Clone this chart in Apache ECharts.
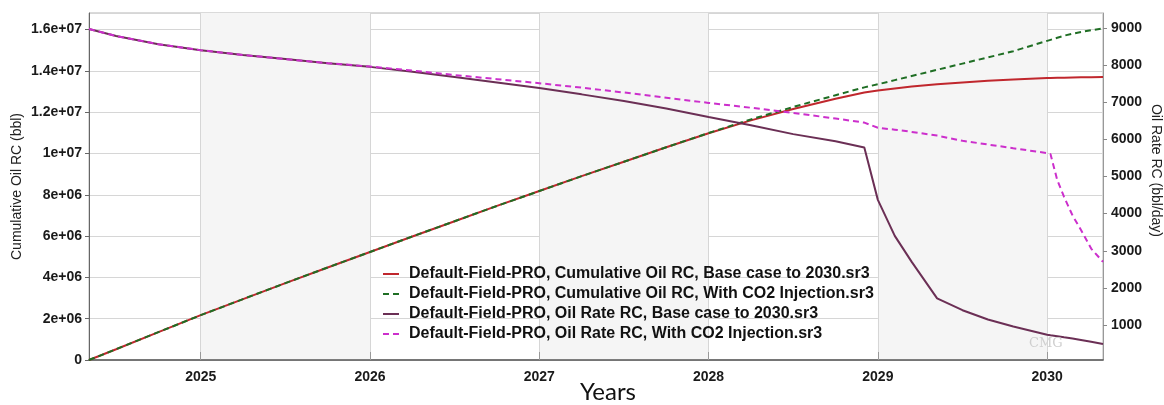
<!DOCTYPE html>
<html>
<head>
<meta charset="utf-8">
<script src="https://cdn.jsdelivr.net/npm/echarts@6/dist/echarts.min.js"></script>
<style>
  html, body { margin: 0; padding: 0; background: #fff; }
  #chart { width: 1164px; height: 405px; }
</style>
</head>
<body>
<div id="chart"></div>
<script>
// time axis (decimal years)
const years = [
  2024.34, 2024.5, 2024.75, 2025, 2025.25, 2025.5, 2025.75, 2026, 2026.25, 2026.5,
  2026.75, 2027, 2027.25, 2027.5, 2027.75, 2028, 2028.25, 2028.5, 2028.75, 2028.92,
  2029, 2029.1, 2029.2, 2029.35, 2029.5, 2029.65, 2029.8, 2030, 2030.02, 2030.06,
  2030.1, 2030.15, 2030.2, 2030.26, 2030.33
];

// cumulative oil (bbl), left axis
const cumBase = [
  0, 0.52e6, 1.35e6, 2.17e6, 2.95e6, 3.72e6, 4.48e6, 5.23e6, 5.98e6, 6.72e6,
  7.46e6, 8.18e6, 8.9e6, 9.6e6, 10.3e6, 10.98e6, 11.6e6, 12.15e6, 12.65e6, 12.95e6,
  13.05e6, 13.15e6, 13.24e6, 13.35e6, 13.44e6, 13.52e6, 13.58e6, 13.65e6, 13.652e6, 13.66e6,
  13.665e6, 13.675e6, 13.685e6, 13.692e6, 13.7e6
];
const cumCO2 = [
  0, 0.52e6, 1.35e6, 2.17e6, 2.95e6, 3.72e6, 4.48e6, 5.23e6, 5.98e6, 6.72e6,
  7.46e6, 8.18e6, 8.9e6, 9.6e6, 10.3e6, 10.99e6, 11.65e6, 12.25e6, 12.82e6, 13.2e6,
  13.35e6, 13.55e6, 13.75e6, 14.05e6, 14.35e6, 14.65e6, 14.95e6, 15.45e6, 15.5e6, 15.6e6,
  15.7e6, 15.8e6, 15.88e6, 15.97e6, 16.05e6
];

// oil rate (bbl/day), right axis
const rateBase = [
  8970, 8780, 8560, 8400, 8270, 8160, 8050, 7950, 7820, 7680,
  7530, 7380, 7210, 7030, 6830, 6600, 6380, 6140, 5950, 5780,
  4370, 3400, 2700, 1720, 1400, 1150, 960, 740, 725, 700,
  670, 640, 600, 550, 490
];
const rateCO2 = [
  8970, 8780, 8560, 8400, 8270, 8160, 8050, 7960, 7850, 7730,
  7620, 7510, 7390, 7260, 7120, 6980, 6850, 6710, 6560, 6450,
  6310, 6260, 6200, 6100, 5960, 5860, 5760, 5630, 5600, 4900,
  4450, 3950, 3560, 3060, 2700
];

const legendNames = [
  'Default-Field-PRO, Cumulative Oil RC, Base case to 2030.sr3',
  'Default-Field-PRO, Cumulative Oil RC, With CO2 Injection.sr3',
  'Default-Field-PRO, Oil Rate RC, Base case to 2030.sr3',
  'Default-Field-PRO, Oil Rate RC, With CO2 Injection.sr3'
];
const rightTicks = [1000, 2000, 3000, 4000, 5000, 6000, 7000, 8000, 9000];

const pairs = (vals) => years.map((x, i) => [x, vals[i]]);

// 2e+06 style labels
const sci = (v) => {
  if (v === 0) return '0';
  const [m, e] = v.toExponential().split('e');
  const sign = e[0] === '-' ? '-' : '+';
  const d = e.replace(/[+-]/, '').padStart(2, '0');
  return m + 'e' + sign + d;
};

const labelFont = { fontFamily: 'Liberation Sans', fontWeight: 'bold', fontSize: 14, color: '#1a1a1a' };

const chart = echarts.init(document.getElementById('chart'));
chart.setOption({
  animation: false,
  grid: {
    left: 89, right: 61, top: 13, bottom: 45,
    containLabel: false, outerBoundsMode: 'none',
    show: true, borderColor: '#b5b5b5', borderWidth: 1
  },
  legend: {
    orient: 'vertical',
    left: 377, top: 261,
    itemWidth: 16, itemHeight: 14, itemGap: 4,
    itemStyle: { opacity: 0 },
    textStyle: { fontFamily: 'Liberation Sans', fontWeight: 'bold', fontSize: 16, color: '#111', padding: [0, 0, 0, 5] },
    data: legendNames
  },
  xAxis: {
    type: 'value',
    min: 2024.34, max: 2030.33,
    splitNumber: 6,
    name: 'Years',
    nameLocation: 'middle',
    nameGap: 20,
    nameMoveOverlap: false,
    nameTextStyle: { fontFamily: 'Lato', fontSize: 24, color: '#111', padding: [0, 0, 0, 24] },
    axisLine: { lineStyle: { color: '#555', width: 1.5 } },
    axisTick: { show: true, length: -8, lineStyle: { color: '#999' } },
    axisLabel: { ...labelFont, margin: 10, showMinLabel: false, showMaxLabel: false, formatter: (v) => String(Math.round(v)) },
    splitLine: { show: true, lineStyle: { color: '#d6d6d6' } },
    splitArea: { show: true, areaStyle: { color: ['rgba(255,255,255,0)', '#f5f5f5'] } }
  },
  yAxis: [
    {
      type: 'value',
      min: 0, max: 1.68e7, interval: 2e6,
      name: 'Cumulative Oil RC (bbl)',
      nameLocation: 'middle',
      nameGap: 65,
      nameMoveOverlap: false,
      nameTextStyle: { fontFamily: 'Liberation Sans', fontSize: 14, color: '#222' },
      axisLine: { show: true, lineStyle: { color: '#666' } },
      axisTick: { show: true, length: 4, lineStyle: { color: '#666' } },
      axisLabel: { ...labelFont, margin: 7, showMaxLabel: false, formatter: sci },
      splitLine: { show: true, lineStyle: { color: '#d6d6d6' } }
    },
    {
      type: 'value',
      min: 60, max: 9400,
      position: 'right',
      name: 'Oil Rate RC (bbl/day)',
      nameLocation: 'middle',
      nameRotate: -90,
      nameGap: 46,
      nameMoveOverlap: false,
      nameTextStyle: { fontFamily: 'Liberation Sans', fontSize: 14, color: '#222', padding: [0, 32, 0, 0] },
      axisLine: { show: true, lineStyle: { color: '#999' } },
      axisTick: { show: true, length: 4, customValues: rightTicks, lineStyle: { color: '#888' } },
      axisLabel: { ...labelFont, margin: 8, customValues: rightTicks, formatter: (v) => String(v) },
      splitLine: { show: false }
    }
  ],
  graphic: [{
    type: 'text', left: 1029, top: 337, z: 100,
    style: { text: 'CMG', font: '13px "DejaVu Serif"', fill: '#cfcfcf' }
  }],
  series: [
    {
      name: legendNames[0], type: 'line', yAxisIndex: 0, symbol: 'none',
      data: pairs(cumBase), lineStyle: { color: '#c0272d', width: 2 }, itemStyle: { color: '#c0272d' }
    },
    {
      name: legendNames[1], type: 'line', yAxisIndex: 0, symbol: 'none',
      data: pairs(cumCO2), lineStyle: { color: '#1f6e24', width: 2, type: [6, 4] }, itemStyle: { color: '#1f6e24' }
    },
    {
      name: legendNames[2], type: 'line', yAxisIndex: 1, symbol: 'none',
      data: pairs(rateBase), lineStyle: { color: '#6b2f55', width: 2 }, itemStyle: { color: '#6b2f55' }
    },
    {
      name: legendNames[3], type: 'line', yAxisIndex: 1, symbol: 'none',
      data: pairs(rateCO2), lineStyle: { color: '#cc2fcc', width: 2, type: [6, 4] }, itemStyle: { color: '#cc2fcc' }
    }
  ]
});
</script>
</body>
</html>
